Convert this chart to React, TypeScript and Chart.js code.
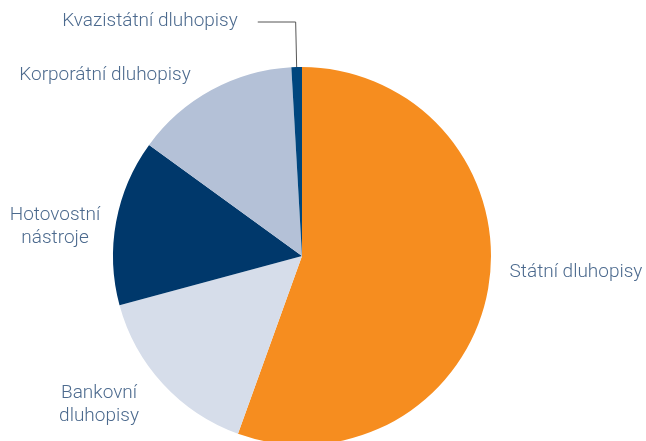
import React, { useEffect, useRef } from "react";
import { Chart, registerables } from "chart.js";

Chart.register(...registerables);

const categories = [
  "Státní dluhopisy",
  "Bankovní dluhopisy",
  "Hotovostní nástroje",
  "Korporátní dluhopisy",
  "Kvazistátní dluhopisy",
];
const shares = [55.5, 15.3, 14.2, 14.1, 0.9];
const labelLines = [
  ["Státní dluhopisy"],
  ["Bankovní", "dluhopisy"],
  ["Hotovostní", "nástroje"],
  ["Korporátní dluhopisy"],
  ["Kvazistátní dluhopisy"],
];
const colors = ["#F68D1F", "#D6DDEA", "#00386B", "#B4C1D7", "#00467E"];

// label placement relative to pie centre (in pixels)
const labelOffsets = [
  { dx: 274, dy: 16, align: "center" },
  { dx: -203, dy: 149, align: "center" },
  { dx: -247, dy: -29, align: "center" },
  { dx: -197, dy: -181, align: "center" },
  { dx: -152, dy: -235, align: "center", leader: true },
];

const labelPlugin = {
  id: "pieLabels",
  afterDraw(chart: any) {
    const ctx = chart.ctx;
    const meta = chart.getDatasetMeta(0);
    const arc0 = meta.data[0];
    if (!arc0) return;
    const cx = arc0.x;
    const cy = arc0.y;
    ctx.save();
    ctx.font = "300 19px Roboto, 'Liberation Sans', sans-serif";
    ctx.fillStyle = "#4C6A8E";
    ctx.textBaseline = "middle";
    labelLines.forEach((lines, i) => {
      const o = labelOffsets[i];
      const lh = 23;
      ctx.textAlign = o.align;
      lines.forEach((t, j) => {
        const y = cy + o.dy + (j - (lines.length - 1) / 2) * lh;
        ctx.fillText(t, cx + o.dx, y);
      });
      if (o.leader) {
        const arc = meta.data[i];
        const mid = (arc.startAngle + arc.endAngle) / 2;
        const ex = cx + Math.cos(mid) * arc.outerRadius;
        const ey = cy + Math.sin(mid) * arc.outerRadius;
        const w = ctx.measureText(lines[0]).width;
        const ty = cy + o.dy + 1;
        ctx.strokeStyle = "#555555";
        ctx.lineWidth = 1;
        ctx.beginPath();
        ctx.moveTo(cx + o.dx + w / 2 + 20, ty);
        ctx.lineTo(ex - 1, ty);
        ctx.lineTo(ex, ey);
        ctx.stroke();
      }
    });
    ctx.restore();
  },
};

export default function App() {
  const ref = useRef<HTMLCanvasElement>(null);
  useEffect(() => {
    if (!ref.current) return;
    const chart = new Chart(ref.current, {
      type: "pie",
      data: {
        labels: categories,
        datasets: [
          {
            data: shares,
            backgroundColor: colors,
            borderWidth: 0,
          },
        ],
      },
      options: {
        responsive: false,
        animation: false,
        layout: { padding: { left: 113, right: 155, top: 67, bottom: 25 } },
        plugins: {
          legend: { display: false },
          tooltip: { enabled: false },
        },
      },
      plugins: [labelPlugin],
    });
    return () => chart.destroy();
  }, []);
  return (
    <div style={{ position: "fixed", left: 0, top: 0, width: 646, height: 470, background: "#fff" }}>
      <canvas ref={ref} width={646} height={470} style={{ width: 646, height: 470 }} />
    </div>
  );
}
